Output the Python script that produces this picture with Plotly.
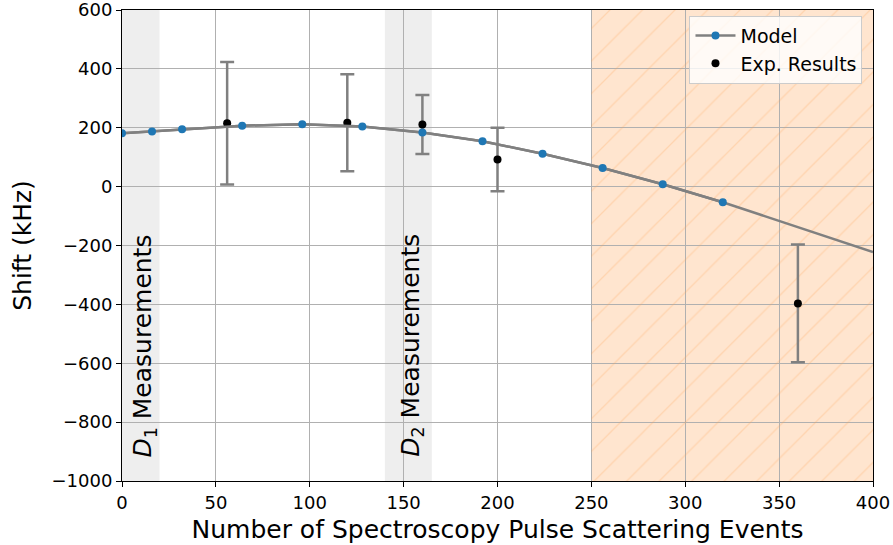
import plotly.graph_objects as go

# Model prediction (sampled points and the curve end point)
model_x = [0, 16, 32, 64, 96, 128, 160, 192, 224, 256, 288, 320]
model_y = [181, 187, 195, 207, 212, 204, 184, 154, 112, 63, 8, -53]
curve_end_x = 400
curve_end_y = -222

# Experimental shifts with uncertainties
exp_x = [56, 120, 160, 200, 360]
exp_y = [215, 217, 211, 92, -397]
exp_err = [208, 165, 100, 108, 200]

# Highlighted regions along the x axis
d1_span = (0, 20)
d2_span = (140, 165)
hatch_span = (250, 400)

y_ticks = [-1000, -800, -600, -400, -200, 0, 200, 400, 600]
y_tick_text = [str(v).replace("-", "\u2212") for v in y_ticks]
x_ticks = [0, 50, 100, 150, 200, 250, 300, 350, 400]

FONT = "DejaVu Sans"
GRAY = "#808080"

fig = go.Figure()

# hatched region (pattern only; the tinted fill is a shape under the grid)
fig.add_trace(go.Bar(
    x=[(hatch_span[0] + hatch_span[1]) / 2], y=[1600], base=[-1000],
    width=[hatch_span[1] - hatch_span[0]],
    marker=dict(color="rgba(0,0,0,0)", line=dict(width=0),
                pattern=dict(shape="/", fgcolor="rgba(255,160,80,0.5)",
                             bgcolor="rgba(0,0,0,0)", size=23, solidity=0.06,
                             fillmode="overlay")),
    showlegend=False, hoverinfo="skip",
))

# model curve across the full range
fig.add_trace(go.Scatter(
    x=model_x + [curve_end_x], y=model_y + [curve_end_y], mode="lines",
    line=dict(color=GRAY, width=2.5), showlegend=False, hoverinfo="skip",
))

# experimental results
fig.add_trace(go.Scatter(
    x=exp_x, y=exp_y, mode="markers", name="Exp. Results",
    marker=dict(color="black", size=8),
    error_y=dict(type="data", array=exp_err, color=GRAY, thickness=2.5, width=7),
    legendrank=2,
))

# model sample points
fig.add_trace(go.Scatter(
    x=model_x, y=model_y, mode="lines+markers", name="Model",
    line=dict(color=GRAY, width=2.5),
    marker=dict(color="#1f77b4", size=8),
    legendrank=1,
))

shapes = []
for x0, x1 in (d1_span, d2_span):
    shapes.append(dict(type="rect", xref="x", yref="paper", x0=x0, x1=x1, y0=0, y1=1,
                       fillcolor="#eeeeee", line=dict(width=0), layer="below"))
shapes.append(dict(type="rect", xref="x", yref="paper", x0=hatch_span[0], x1=hatch_span[1],
                   y0=0, y1=1, fillcolor="#ffe5cf", line=dict(width=0), layer="below"))

annotations = [
    dict(x=11.7, y=-540, xref="x", yref="y", text="<i>D</i><sub>1</sub> Measurements",
         textangle=-90, showarrow=False, font=dict(family=FONT, size=25, color="black")),
    dict(x=154, y=-540, xref="x", yref="y", text="<i>D</i><sub>2</sub> Measurements",
         textangle=-90, showarrow=False, font=dict(family=FONT, size=25, color="black")),
]

fig.update_layout(
    width=893, height=545,
    margin=dict(l=122, r=20, t=10, b=64, autoexpand=False),
    paper_bgcolor="white", plot_bgcolor="white",
    font=dict(family=FONT, color="black"),
    shapes=shapes, annotations=annotations,
    barmode="overlay", bargap=0,
    legend=dict(x=0.986, y=0.988, xanchor="right", yanchor="top",
                bgcolor="rgba(255,255,255,0.8)", bordercolor="#cccccc", borderwidth=1,
                font=dict(family=FONT, size=19), itemwidth=40, tracegroupgap=0),
    xaxis=dict(range=[0, 400], tickvals=x_ticks, showgrid=True, gridcolor="#b0b0b0",
               gridwidth=1, zeroline=False, showline=True, linecolor="black", linewidth=1,
               mirror=True, ticks="outside", ticklen=5, tickcolor="black", automargin=False,
               tickfont=dict(family=FONT, size=18), ticklabeloverflow="allow",
               title=dict(text="Number of Spectroscopy Pulse Scattering Events",
                          font=dict(family=FONT, size=25), standoff=8)),
    yaxis=dict(range=[-1000, 600], tickvals=y_ticks, ticktext=y_tick_text, showgrid=True,
               gridcolor="#b0b0b0", gridwidth=1, zeroline=False, showline=True,
               linecolor="black", linewidth=1, mirror=True, ticks="outside", ticklen=5,
               tickcolor="black", tickfont=dict(family=FONT, size=18), automargin=False,
               ticklabeloverflow="allow",
               title=dict(text="Shift (kHz)", font=dict(family=FONT, size=25), standoff=12)),
)

fig.write_html("out.html")
